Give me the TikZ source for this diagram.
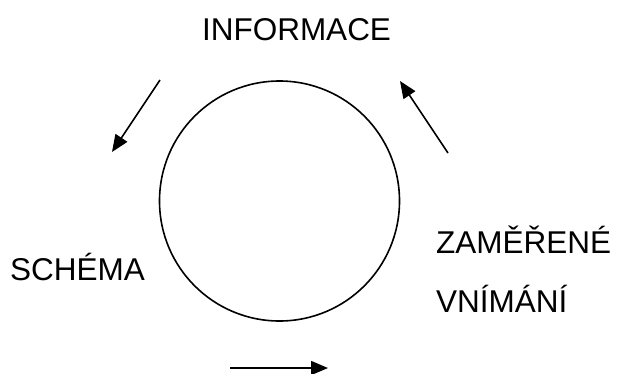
\documentclass[tikz,border=0pt]{standalone}
\usepackage{fontspec}
\setmainfont{Liberation Sans}
\usetikzlibrary{arrows.meta}
\begin{document}
\begin{tikzpicture}[x=1pt,y=-1pt,
  lbl/.style={inner sep=0pt,font=\fontsize{31.5}{36}\selectfont},
  flow/.style={line width=1.6pt,-{Triangle[length=17pt,width=14pt]}},
  ring/.style={draw,circle,line width=1.6pt,minimum size=240pt,inner sep=0pt}]
\useasboundingbox[fill=white] (0,0) rectangle (617,373);
\node[ring] (cyc) at (279.5,201) {};
\node[lbl,anchor=base] (info) at (296.5,40) {INFORMACE};
\node[lbl,anchor=base] (schema) at (77.5,280) {SCHÉMA};
\node[lbl,anchor=base west] (zam) at (436,253) {ZAMĚŘENÉ};
\node[lbl,anchor=base west] (vni) at (436,312) {VNÍMÁNÍ};
\coordinate (a1s) at (160,80);
\coordinate (a1e) at (112,152);
\coordinate (a2s) at (448,153);
\coordinate (a2e) at (400,81);
\coordinate (a3s) at (230,368);
\coordinate (a3e) at (328,368);
\draw[flow] (a1s) -- (a1e);
\draw[flow] (a2s) -- (a2e);
\draw[flow] (a3s) -- (a3e);
\end{tikzpicture}
\end{document}
